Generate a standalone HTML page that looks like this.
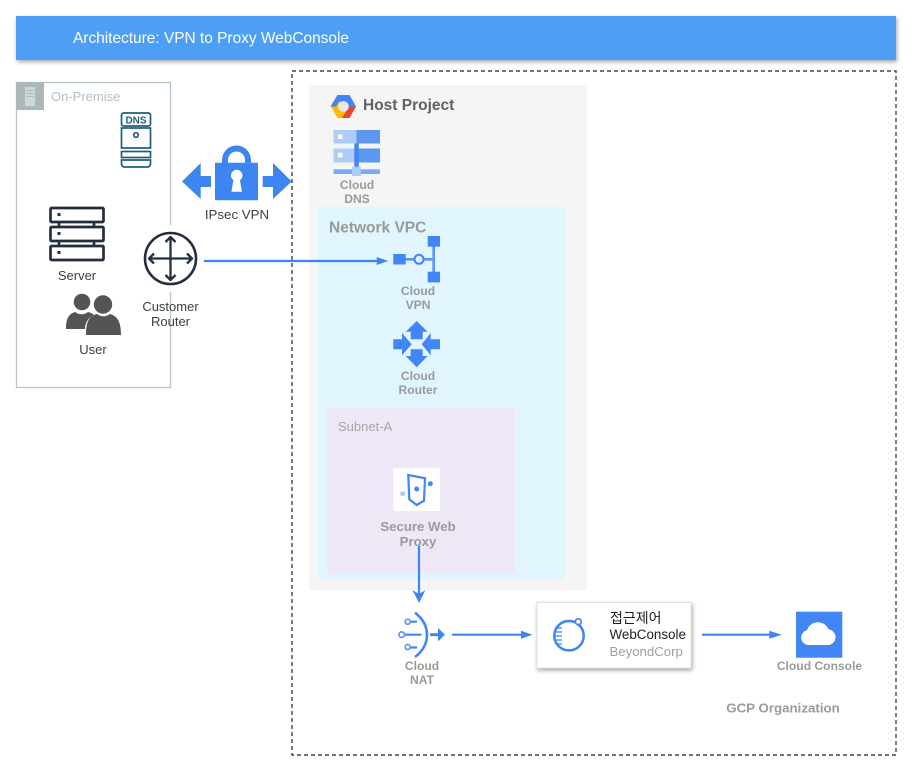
<!DOCTYPE html>
<html><head><meta charset="utf-8">
<style>
html,body{margin:0;padding:0;background:#fff;width:913px;height:767px;overflow:hidden}
svg{display:block}
text{font-family:"Liberation Sans","Noto Sans CJK KR",sans-serif}
.g{fill:#9a9a9a;font-weight:bold;font-size:12.1px;text-anchor:middle}
.d{fill:#3c4043;font-size:13px;text-anchor:middle}
</style></head><body>
<svg width="913" height="767" viewBox="0 0 913 767" xmlns="http://www.w3.org/2000/svg">
<defs>
<filter id="s" x="-5%" y="-20%" width="110%" height="140%"><feDropShadow dx="1" dy="2" stdDeviation="2" flood-color="#000" flood-opacity=".35"/></filter>
</defs>
<rect x="16" y="16" width="880" height="44" fill="#4d9ff5" filter="url(#s)"/>
<text x="73" y="43" fill="#fff" font-size="15.45">Architecture: VPN to Proxy WebConsole</text>

<rect x="292" y="71" width="604" height="684" fill="none" stroke="#444" stroke-width="1.4" stroke-dasharray="4 3"/>

<!-- On premise -->
<rect x="16.5" y="82.5" width="154" height="305" fill="#fff" stroke="#b8c6c6" stroke-width="1.3"/>
<rect x="16" y="82" width="28" height="28" fill="#aab8b8"/>
<rect x="25" y="87" width="10" height="19" fill="#cfd8d8"/>
<path d="M26.500 90.500h7M26.500 93.500h7M26.500 96.500h7" stroke="#aab8b8" stroke-width="1"/>
<text x="51" y="101" fill="#b3c0c0" font-size="13">On-Premise</text>

<!-- DNS -->
<g fill="#fff" stroke="#1f5c80" stroke-width="1.7">
<rect x="121.500" y="113" width="29" height="13" rx="2"/>
<rect x="121.500" y="128" width="29" height="20"/>
<rect x="121.500" y="151.500" width="29" height="6"/>
<path d="M121.500 160h29v4a3 3 0 0 1-3 3h-23a3 3 0 0 1-3-3z"/>
<circle cx="136" cy="135" r="2.300"/>
</g>
<text x="136" y="123.500" fill="#1f5c80" font-size="10" font-weight="bold" text-anchor="middle">DNS</text>

<!-- Server -->
<g fill="#fff" stroke="#232f3e" stroke-width="2.700">
<path d="M59 222v5M94 222v5M59 241v5M94 241v5" fill="none"/>
<rect x="50.500" y="208" width="53" height="14" rx="1"/>
<rect x="50.500" y="227" width="53" height="14" rx="1"/>
<rect x="50.500" y="246" width="53" height="14" rx="1"/>
</g>
<g fill="#232f3e"><rect x="57.500" y="213" width="3" height="3"/><rect x="57.500" y="232" width="3" height="3"/><rect x="57.500" y="251" width="3" height="3"/></g>
<text x="77" y="280" class="d">Server</text>

<!-- User -->
<g fill="#545454">
<circle cx="82" cy="302" r="8.300"/>
<path d="M66 329c0-11 3-15 9-17 4 3 9 3 13 0 2 .5 4 1 6 3-6 3-9 8-9 14z"/>
<circle cx="103" cy="304.500" r="9.200"/>
<path d="M86 335c0-13 3-19 11-21 4 3 9 3 13 0 7 2 11 7 11 21z"/>
</g>
<text x="93" y="354" class="d">User</text>

<!-- Customer router -->
<rect x="160" y="225" width="21" height="67" fill="#fff"/>
<circle cx="170.500" cy="258.500" r="25.500" fill="#fff" stroke="#232f3e" stroke-width="2.600"/>
<g fill="none" stroke="#232f3e" stroke-width="2.300" stroke-linejoin="round">
<path d="M170.500 237v43M149 258.500h43"/>
<path d="M165.500 242l5-5 5 5M165.500 275l5 5 5-5M154 253.500l-5 5 5 5M187 253.500l5 5-5 5"/>
</g>
<text x="170.500" y="311" class="d">Customer</text>
<text x="170.500" y="326" class="d">Router</text>

<!-- IPsec -->
<g fill="#3d85f0">
<path d="M182 181.500l18.700-18.500v13h10.300v11h-10.300v12z"/>
<path d="M291.700 181.500l-18.700-18.500v13h-10.300v11h10.300v12z"/>
<path d="M215 162.700h43v37.500h-43z"/>
<path d="M222 163v-3a14.500 14.500 0 0 1 29 0v3h-6v-3a8.500 8.500 0 0 0-17 0v3z"/>
</g>
<circle cx="236.700" cy="175.500" r="5.700" fill="#fff"/>
<path d="M234 177h5.400l2.600 14.700h-10.600z" fill="#fff"/>
<text x="237" y="219" class="d" style="font-size:13.3px">IPsec VPN</text>

<!-- Host project -->
<rect x="309" y="85" width="278" height="505" fill="#f5f5f5"/>
<path d="M337.500 95h12l6.500 11.500-6.500 11.500h-12l-6.500-11.500z" fill="#fbbc05"/>
<path d="M337.500 95h12l6.500 11.500h-7.500l-3-5h-6.500l-3 5h-5.500z" fill="#4285f4"/>
<path d="M356 106.500l-6.500 11.500h-7.500l4-6.500 2.500-5z" fill="#ea4335"/>
<circle cx="343.500" cy="106.500" r="5.300" fill="#e8e8e8"/>
<text x="363" y="110" fill="#616161" font-size="15.5" font-weight="bold">Host Project</text>

<!-- Cloud DNS -->
<rect x="333.500" y="130" width="23" height="13.500" fill="#aecbfa"/><rect x="356.500" y="130" width="23.500" height="13.500" fill="#5c97f0"/>
<rect x="333.500" y="148.500" width="23" height="14" fill="#aecbfa"/><rect x="356.500" y="148.500" width="23.500" height="14" fill="#5c97f0"/>
<rect x="354.300" y="143.500" width="4.500" height="25" fill="#4285f4"/>
<rect x="333.500" y="169.300" width="46.500" height="4.700" fill="#7baaf7"/>
<rect x="352" y="166.700" width="9" height="9.300" fill="#aecbfa"/>
<rect x="338" y="134.500" width="4.500" height="4.500" fill="#fff"/><rect x="338" y="152.800" width="4.500" height="4.500" fill="#fff"/>
<text x="357" y="189" class="g">Cloud</text>
<text x="357" y="203" class="g">DNS</text>

<!-- VPC -->
<rect x="318" y="207" width="247" height="372" fill="#e1f5fe"/>
<text x="329" y="232.500" fill="#9a9a9a" font-size="15.5" font-weight="bold">Network VPC</text>

<!-- Cloud VPN -->
<path d="M405 259.300h10M423 259.300h11M433.700 245v28" stroke="#5c97f0" stroke-width="2.700" fill="none"/>
<circle cx="419" cy="259.300" r="4.500" fill="#e1f5fe" stroke="#4285f4" stroke-width="2"/>
<rect x="393.300" y="254" width="12.400" height="10.500" fill="#4285f4"/>
<rect x="427.700" y="236" width="12.300" height="10.700" fill="#4285f4"/>
<rect x="427.700" y="271.700" width="12.300" height="10.700" fill="#4285f4"/>
<text x="418" y="295" class="g">Cloud</text>
<text x="418" y="309" class="g">VPN</text>

<!-- Cloud Router -->
<g fill="#4285f4">
<path d="M416.700 321l11 10.700h-5v7.600h-12v-7.600h-5z"/>
<path d="M416.700 367.300l11-11.300h-5v-6.700h-12v6.700h-5z"/>
<path d="M411.700 344.300l-9.700-11.300v6.300h-8.700v10h8.700v6z"/>
<path d="M421.700 344.300l9-11.300v6.300h9.300v10h-9.300v6z"/>
</g>
<text x="418" y="380" class="g">Cloud</text>
<text x="418" y="394" class="g">Router</text>

<!-- Subnet -->
<rect x="327" y="408" width="188" height="165" fill="#ede7f6"/>
<text x="338" y="431" fill="#a5a5a5" font-size="13">Subnet-A</text>
<rect x="393.300" y="468.300" width="46.700" height="42.700" fill="#fff"/>
<path d="M408.300 475l16.700 3.300-1 22.400-7.300 4.300-7.400-5.700z" fill="none" stroke="#4285f4" stroke-width="2.200"/>
<circle cx="416.700" cy="489" r="2.500" fill="#4285f4"/>
<circle cx="430.300" cy="483.700" r="2.500" fill="#4285f4"/>
<circle cx="402.700" cy="493.700" r="2.500" fill="#aecbfa"/>
<text x="418" y="531" class="g" style="font-size:13.2px">Secure Web</text>
<text x="418" y="546" class="g" style="font-size:13.2px">Proxy</text>

<!-- Connectors -->
<g stroke="#3d85f0" stroke-width="2.200" fill="none">
<path d="M204 261h174"/>
<path d="M419 546v48"/>
<path d="M452 634.700h70"/>
<path d="M702 634.700h70"/>
</g>
<g fill="#3d85f0">
<path d="M388.300 261l-11.600-4v8z"/>
<path d="M419 603l-6.500-13 6.500 4 6.500-4z"/>
<path d="M532.500 634.700l-11.500-4v8z"/>
<path d="M781.700 634.700l-12.400-4v8z"/>
</g>

<!-- Cloud NAT -->
<path d="M415 612.700C431 625 431 645 415 657" fill="none" stroke="#4285f4" stroke-width="2.600"/>
<path d="M410 621.700h7M405 634.700h16.500M410 647.500h7" stroke="#4285f4" stroke-width="2.200" fill="none"/>
<g fill="#fff" stroke="#5c97f0" stroke-width="1.700"><circle cx="407.700" cy="621.700" r="2.500"/><circle cx="401.700" cy="634.700" r="2.800"/><circle cx="407.700" cy="647" r="2.500"/></g>
<path d="M430 633.300h8v-5.300l7 6.700-7 6.700v-5.300h-8z" fill="#3d85f0"/>
<text x="422" y="670" class="g">Cloud</text>
<text x="422" y="684" class="g">NAT</text>

<!-- Access box -->
<rect x="537" y="602.500" width="154" height="65.500" fill="#fff" stroke="#e0e0e0" stroke-width="1" filter="url(#s)"/>
<circle cx="569" cy="635.700" r="14.700" fill="none" stroke="#3d85f0" stroke-width="2.500"/>
<path d="M556 628h6M555 632h7M555 636h7M555 640h7M557 644h5" stroke="#3d85f0" stroke-width="1.300"/>
<circle cx="578.300" cy="621.700" r="2.900" fill="#fff" stroke="#3d85f0" stroke-width="1.700"/>
<text x="610" y="623" fill="#222" font-size="14">접근제어</text>
<text x="609.500" y="639" fill="#222" font-size="13.400">WebConsole</text>
<text x="609.500" y="656" fill="#9e9e9e" font-size="13.200">BeyondCorp</text>

<!-- Cloud Console -->
<rect x="796" y="611.700" width="46.300" height="46" fill="#4285f4"/>
<path d="M808.500 645a7.500 7.500 0 0 1-1.500-14.800 11.500 11.500 0 0 1 21.500-1 8 8 0 0 1 .5 15.800z" fill="#fff"/>
<text x="819.500" y="670" class="g">Cloud Console</text>

<text x="783" y="712.500" class="g" style="font-size:13.300px">GCP Organization</text>
</svg>
</body></html>
